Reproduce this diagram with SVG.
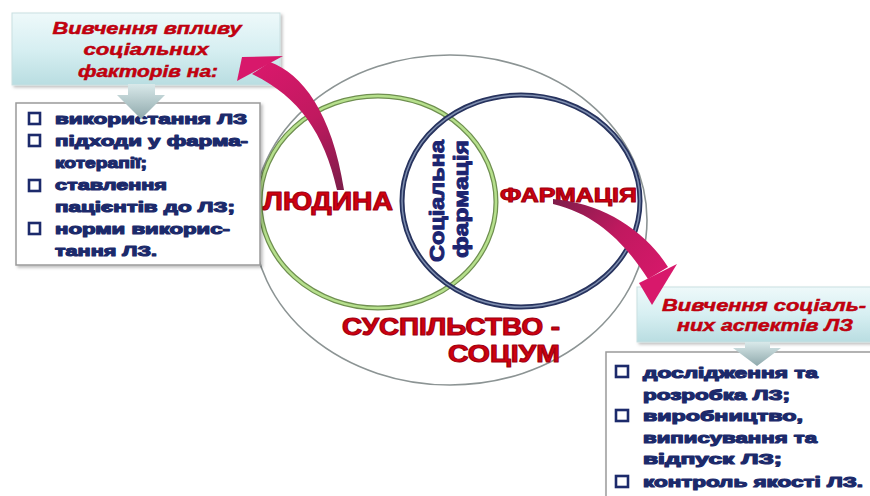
<svg xmlns="http://www.w3.org/2000/svg" width="870" height="496" viewBox="0 0 870 496">
<defs>
<linearGradient id="hdr" x1="0" y1="0" x2="0" y2="1">
<stop offset="0" stop-color="#eef9fa"/><stop offset="0.5" stop-color="#d7eff2"/><stop offset="1" stop-color="#b9dde1"/>
</linearGradient>
<linearGradient id="chev" x1="0" y1="0" x2="0" y2="1">
<stop offset="0" stop-color="#d9e9ea"/><stop offset="1" stop-color="#8fa9ac"/>
</linearGradient>
<linearGradient id="pink1" gradientUnits="userSpaceOnUse" x1="340" y1="190" x2="260" y2="65">
<stop offset="0" stop-color="#7e1d4a"/><stop offset="0.5" stop-color="#c0195f"/><stop offset="1" stop-color="#d8186b"/>
</linearGradient>
<linearGradient id="pink2" gradientUnits="userSpaceOnUse" x1="553" y1="200" x2="660" y2="290">
<stop offset="0" stop-color="#7e1d4a"/><stop offset="0.5" stop-color="#c0195f"/><stop offset="1" stop-color="#d8186b"/>
</linearGradient>
<filter id="sh" x="-10%" y="-10%" width="130%" height="130%">
<feDropShadow dx="2" dy="2" stdDeviation="1.5" flood-color="#000" flood-opacity="0.25"/>
</filter>
</defs>
<style>
.hdrbox{fill:url(#hdr);stroke:#c9dfe1;stroke-width:1;filter:url(#sh)}
.listbox{fill:#fff;stroke:#9a9a9a;stroke-width:1.5;filter:url(#sh)}
.hdrtxt{font-family:"Liberation Sans",Arial,sans-serif;font-weight:bold;font-style:italic;font-size:17px;fill:#c8000f;stroke:#b0000d;stroke-width:0.5;text-anchor:middle}
.item{font-family:"Liberation Sans",Arial,sans-serif;font-weight:bold;font-size:15.5px;fill:#1c2a6b;stroke:#1c2a6b;stroke-width:1.2;stroke-linejoin:round}
.cb{fill:#fff;stroke:#1c2a6b;stroke-width:2.6}
.red{font-family:"Liberation Sans",Arial,sans-serif;font-weight:bold;fill:#d0000f;stroke:#a00010;stroke-width:1.1;stroke-linejoin:round}
.vert{font-family:"Liberation Sans",Arial,sans-serif;font-weight:bold;font-size:21px;fill:#1c2470;stroke:#1c2470;stroke-width:1;stroke-linejoin:round}
.chev{fill:url(#chev)}
</style>

<g id="society">
<ellipse cx="450" cy="220" rx="197" ry="165" fill="none" stroke="#8c9494" stroke-width="1.6"/>
<text class="red" font-size="23" x="342" y="335" textLength="218" lengthAdjust="spacingAndGlyphs">СУСПІЛЬСТВО -</text>
<text class="red" font-size="23" x="448" y="362" textLength="112" lengthAdjust="spacingAndGlyphs">СОЦІУМ</text>
</g>

<g id="human">
<ellipse cx="378" cy="202" rx="118" ry="106" fill="none" stroke="#6f8f50" stroke-width="5"/>
<ellipse cx="378" cy="202" rx="118" ry="106" fill="none" stroke="#b6e08c" stroke-width="2.5"/>
<text class="red" font-size="25" x="263" y="210" textLength="130" lengthAdjust="spacingAndGlyphs">ЛЮДИНА</text>
</g>

<g id="pharmacy">
<ellipse cx="521" cy="201" rx="119" ry="106" fill="none" stroke="#27335e" stroke-width="5"/>
<ellipse cx="521" cy="201" rx="119" ry="106" fill="none" stroke="#7f8fb0" stroke-width="1.5"/>
<text class="red" font-size="21" x="500" y="202" textLength="137" lengthAdjust="spacingAndGlyphs">ФАРМАЦІЯ</text>
</g>

<g id="social-pharmacy">
<text class="vert" transform="translate(444,201) rotate(-90)" x="0" y="0" text-anchor="middle" textLength="122" lengthAdjust="spacingAndGlyphs">Соціальна</text>
<text class="vert" transform="translate(468,199) rotate(-90)" x="0" y="0" text-anchor="middle" textLength="118" lengthAdjust="spacingAndGlyphs">фармація</text>
</g>

<g id="left-header">
<rect class="hdrbox" x="12" y="13" width="268" height="72"/>
<text class="hdrtxt" x="147" y="34" textLength="189" lengthAdjust="spacingAndGlyphs">Вивчення впливу</text>
<text class="hdrtxt" x="146" y="55" textLength="125" lengthAdjust="spacingAndGlyphs">соціальних</text>
<text class="hdrtxt" x="148" y="77" textLength="140" lengthAdjust="spacingAndGlyphs">факторів на:</text>
</g>

<g id="left-list">
<rect class="listbox" x="16" y="103" width="244" height="162"/>
<rect class="cb" x="29" y="113" width="11" height="11"/>
<rect class="cb" x="29" y="135" width="11" height="11"/>
<rect class="cb" x="29" y="180" width="11" height="11"/>
<rect class="cb" x="29" y="223" width="11" height="11"/>
<text class="item" x="55" y="124" textLength="192" lengthAdjust="spacingAndGlyphs">використання ЛЗ</text>
<text class="item" x="55" y="146" textLength="193" lengthAdjust="spacingAndGlyphs">підходи у фарма-</text>
<text class="item" x="55" y="168" textLength="92" lengthAdjust="spacingAndGlyphs">котерапії;</text>
<text class="item" x="55" y="190" textLength="112" lengthAdjust="spacingAndGlyphs">ставлення</text>
<text class="item" x="55" y="212" textLength="180" lengthAdjust="spacingAndGlyphs">пацієнтів до ЛЗ;</text>
<text class="item" x="55" y="234" textLength="175" lengthAdjust="spacingAndGlyphs">норми викорис-</text>
<text class="item" x="55" y="256" textLength="102" lengthAdjust="spacingAndGlyphs">тання ЛЗ.</text>
<polygon class="chev" points="128,84 155,84 155,95 165,95 141,119 117,95 128,95"/>
</g>

<g id="right-header">
<rect class="hdrbox" x="637" y="287" width="240" height="55"/>
<text class="hdrtxt" x="764" y="311" textLength="204" lengthAdjust="spacingAndGlyphs">Вивчення соціаль-</text>
<text class="hdrtxt" x="765" y="331" textLength="176" lengthAdjust="spacingAndGlyphs">них аспектів ЛЗ</text>
</g>

<g id="right-list">
<rect class="listbox" x="606" y="352" width="270" height="150"/>
<rect class="cb" x="616" y="366" width="12" height="11"/>
<rect class="cb" x="616" y="410" width="12" height="11"/>
<rect class="cb" x="616" y="476" width="12" height="11"/>
<text class="item" x="643" y="378" textLength="175" lengthAdjust="spacingAndGlyphs">дослідження та</text>
<text class="item" x="643" y="400" textLength="147" lengthAdjust="spacingAndGlyphs">розробка ЛЗ;</text>
<text class="item" x="643" y="421" textLength="160" lengthAdjust="spacingAndGlyphs">виробництво,</text>
<text class="item" x="643" y="443" textLength="174" lengthAdjust="spacingAndGlyphs">виписування та</text>
<text class="item" x="643" y="464" textLength="139" lengthAdjust="spacingAndGlyphs">відпуск ЛЗ;</text>
<text class="item" x="643" y="487" textLength="220" lengthAdjust="spacingAndGlyphs">контроль якості ЛЗ.</text>
<polygon class="chev" points="745,342 770,342 770,348 781,348 757,366 733,348 745,348"/>
</g>

<g id="connectors">
<path d="M270,62 C302,74 332,112 344,190 L337,190 C324,132 298,96 252,74 Z" fill="url(#pink1)"/>
<polygon points="242,57 283,56 237,81" fill="#d8186b"/>
<path d="M553,199 C602,203 645,230 668,267 L648,279 C628,248 600,215 553,204 Z" fill="url(#pink2)"/>
<polygon points="639,283 677,264 652,305" fill="#d8186b"/>
</g>
</svg>
